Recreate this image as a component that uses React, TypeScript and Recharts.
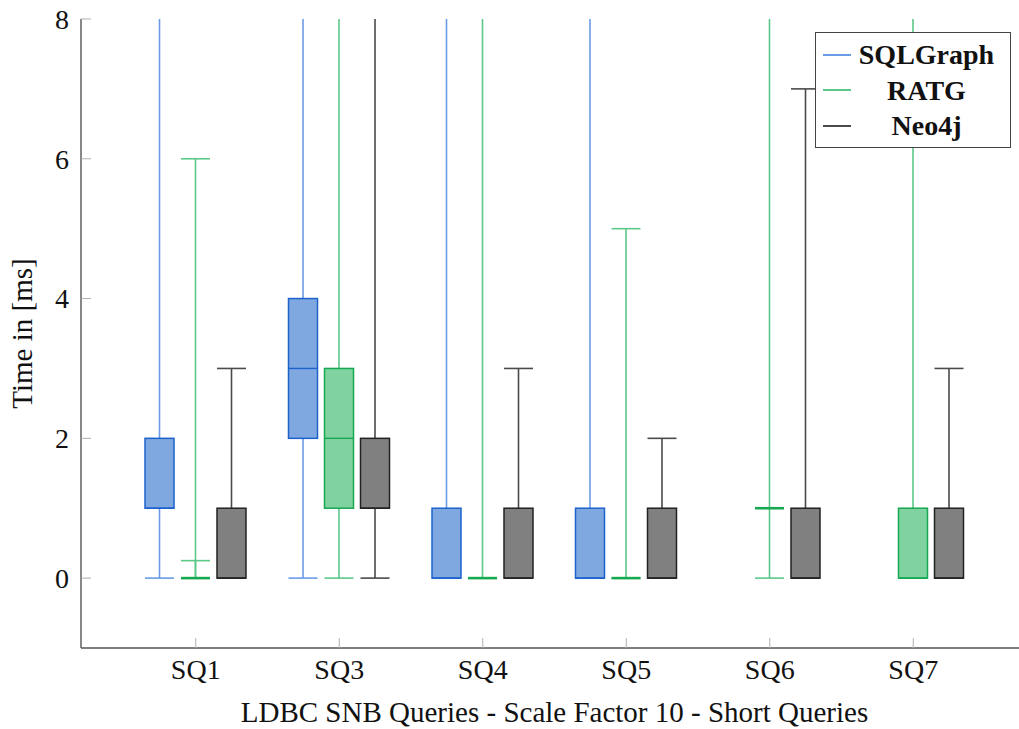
import React from "react";
import { ComposedChart, Bar, XAxis, YAxis } from "recharts";

const categories = ["SQ1", "SQ3", "SQ4", "SQ5", "SQ6", "SQ7"];
const yTicks = [0, 2, 4, 6, 8];
const Y_MIN = -1;
const Y_MAX = 8;

// five-number summaries per system (null = no box drawn)
const sqlgraphLow = [0, 0, 0, 0, null, null];
const sqlgraphQ1 = [1, 2, 0, 0, null, null];
const sqlgraphMedian = [1, 3, 0, 0, null, null];
const sqlgraphQ3 = [2, 4, 1, 1, null, null];
const sqlgraphHigh = [14, 16, 12, 11, null, null];

const ratgLow = [0.25, 0, 0, 0, 0, 0];
const ratgQ1 = [0, 1, 0, 0, 1, 0];
const ratgMedian = [0, 2, 0, 0, 1, 0];
const ratgQ3 = [0, 3, 0, 0, 1, 1];
const ratgHigh = [6, 9, 13, 5, 12, 10];

const neo4jLow = [0, 0, 0, 0, 0, 0];
const neo4jQ1 = [0, 1, 0, 0, 0, 0];
const neo4jMedian = [0, 1, 0, 0, 0, 0];
const neo4jQ3 = [1, 2, 1, 1, 1, 1];
const neo4jHigh = [3, 11, 3, 2, 7, 3];

const FONT = "Liberation Serif, DejaVu Serif, Times New Roman, Times, serif";

type Stats = { low: number; q1: number; median: number; q3: number; high: number };

const series = [
  {
    key: "sqlgraph",
    name: "SQLGraph",
    fill: "#80a8e0",
    stroke: "#1d62cc",
    whisker: "#6a9be6",
    low: sqlgraphLow,
    q1: sqlgraphQ1,
    median: sqlgraphMedian,
    q3: sqlgraphQ3,
    high: sqlgraphHigh,
  },
  {
    key: "ratg",
    name: "RATG",
    fill: "#80d3a0",
    stroke: "#17a852",
    whisker: "#5cc889",
    low: ratgLow,
    q1: ratgQ1,
    median: ratgMedian,
    q3: ratgQ3,
    high: ratgHigh,
  },
  {
    key: "neo4j",
    name: "Neo4j",
    fill: "#808080",
    stroke: "#222222",
    whisker: "#4a4a4a",
    low: neo4jLow,
    q1: neo4jQ1,
    median: neo4jMedian,
    q3: neo4jQ3,
    high: neo4jHigh,
  },
];

const data = categories.map((name, i) => {
  const row: Record<string, any> = { name };
  series.forEach((s) => {
    row[s.key] =
      s.q1[i] == null
        ? null
        : { low: s.low[i], q1: s.q1[i], median: s.median[i], q3: s.q3[i], high: s.high[i] };
  });
  return row;
});

const makeBoxShape = (s: (typeof series)[number]) => (props: any) => {
  const { x, width, payload, background } = props;
  const st: Stats | null = payload ? payload[s.key] : null;
  if (!st || !background) return <g />;
  const unit = background.height / (Y_MAX - Y_MIN);
  const py = (v: number) => background.y + (Y_MAX - v) * unit;
  const cx = x + width / 2;
  const top = py(st.q3);
  const bot = py(st.q1);
  const flat = st.q1 === st.q3;
  return (
    <g>
      <line x1={cx} x2={cx} y1={py(st.high)} y2={top} stroke={s.whisker} strokeWidth={1.6} />
      <line x1={cx} x2={cx} y1={bot} y2={py(st.low)} stroke={s.whisker} strokeWidth={1.6} />
      <line x1={x} x2={x + width} y1={py(st.high)} y2={py(st.high)} stroke={s.whisker} strokeWidth={1.6} />
      <line x1={x} x2={x + width} y1={py(st.low)} y2={py(st.low)} stroke={s.whisker} strokeWidth={1.6} />
      {!flat && (
        <rect x={x} y={top} width={width} height={bot - top} fill={s.fill} stroke={s.stroke} strokeWidth={1.5} />
      )}
      <line
        x1={x}
        x2={x + width}
        y1={py(st.median)}
        y2={py(st.median)}
        stroke={s.stroke}
        strokeWidth={flat ? 2.6 : 1.4}
      />
    </g>
  );
};

const YTick = (props: any) => {
  const { x, y, payload } = props;
  const ax = x + 12;
  return (
    <g>
      <line x1={ax} x2={ax + 10} y1={y} y2={y} stroke="#b0b0b0" strokeWidth={1} />
      <text x={x} y={y} dy="0.35em" textAnchor="end" style={{ fontFamily: FONT }} fontSize={28} fill="#111">
        {payload.value}
      </text>
    </g>
  );
};

const XTick = (props: any) => {
  const { x, y, payload } = props;
  return (
    <g>
      <line x1={x} x2={x} y1={y} y2={y - 10} stroke="#b0b0b0" strokeWidth={1} />
      <text x={x} y={y + 31} textAnchor="middle" style={{ fontFamily: FONT }} fontSize={28} fill="#111">
        {payload.value}
      </text>
    </g>
  );
};

const TopTick = (props: any) => {
  const { x, y } = props;
  return <line x1={x} x2={x} y1={y} y2={y + 10} stroke="#b0b0b0" strokeWidth={1} />;
};

const XLabel = (props: any) => {
  const { viewBox } = props;
  return (
    <text
      x={viewBox.x + viewBox.width / 2}
      y={viewBox.y + 74}
      textAnchor="middle"
      style={{ fontFamily: FONT }}
      fontSize={29}
      fill="#111"
    >
      LDBC SNB Queries - Scale Factor 10 - Short Queries
    </text>
  );
};

const YLabel = (props: any) => {
  const { viewBox } = props;
  const cx = 22;
  const cy = viewBox.y + viewBox.height / 2;
  return (
    <text
      x={cx}
      y={cy}
      dy="0.35em"
      transform={`rotate(-90, ${cx}, ${cy})`}
      textAnchor="middle"
      style={{ fontFamily: FONT }}
      fontSize={29}
      fill="#111"
    >
      Time in [ms]
    </text>
  );
};

const Legend = () => (
  <div
    style={{
      position: "absolute",
      left: 815,
      top: 32,
      width: 196,
      height: 116,
      boxSizing: "border-box",
      border: "1.3px solid #444",
      background: "#fff",
      paddingTop: 4,
      fontFamily: FONT,
      fontWeight: "bold",
      fontSize: 28,
      color: "#111",
    }}
  >
    {series.map((s) => (
      <div key={s.key} style={{ height: 35.5, display: "flex", alignItems: "center" }}>
        <div style={{ width: 28, height: 0, borderTop: `2px solid ${s.whisker}`, marginLeft: 7 }} />
        <div style={{ flex: 1, textAlign: "center", paddingRight: 8, lineHeight: "35px" }}>{s.name}</div>
      </div>
    ))}
  </div>
);

export default function App() {
  return (
    <div
      style={{
        position: "absolute",
        left: 0,
        top: 0,
        width: 1019,
        height: 729,
        overflow: "hidden",
        background: "#fff",
        fontFamily: FONT,
      }}
    >
      <ComposedChart
        width={1040}
        height={729}
        data={data}
        margin={{ top: 19, right: 12, bottom: 0, left: 0 }}
        barGap={7}
      >
        <XAxis
          dataKey="name"
          height={81}
          padding={{ left: 43, right: 43 }}
          tickSize={0}
          tickMargin={0}
          tickLine={false}
          tick={<XTick />}
          axisLine={{ stroke: "#555", strokeWidth: 1.4 }}
          label={<XLabel />}
          interval={0}
        />
        <XAxis
          xAxisId="top"
          orientation="top"
          dataKey="name"
          height={0}
          padding={{ left: 43, right: 43 }}
          tickSize={0}
          tickMargin={0}
          tickLine={false}
          tick={<TopTick />}
          axisLine={{ stroke: "#555", strokeWidth: 1.4 }}
          interval={0}
        />
        <YAxis
          type="number"
          domain={[Y_MIN, Y_MAX]}
          ticks={yTicks}
          allowDataOverflow
          width={81}
          tickSize={0}
          tickMargin={12}
          tickLine={false}
          tick={<YTick />}
          axisLine={{ stroke: "#555", strokeWidth: 1.4 }}
          label={<YLabel />}
        />
        {series.map((s) => (
          <Bar
            key={s.key}
            name={s.name}
            dataKey={(d: any) => (d[s.key] ? [d[s.key].q1, d[s.key].q3] : null)}
            barSize={29}
            shape={makeBoxShape(s)}
            isAnimationActive={false}
          />
        ))}
      </ComposedChart>
      <Legend />
    </div>
  );
}
